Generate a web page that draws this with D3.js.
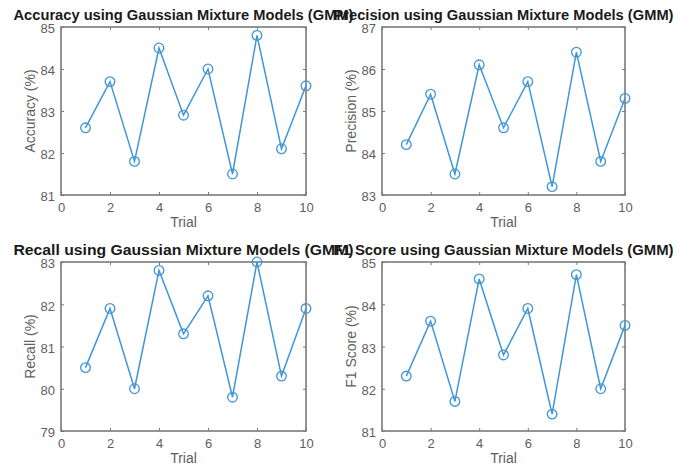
<!DOCTYPE html>
<html>
<head>
<meta charset="utf-8">
<script src="https://cdn.jsdelivr.net/npm/d3@7"></script>
<style>
  body { margin: 0; background: #fff; }
  svg { display: block; font-family: Arial, "Liberation Sans", sans-serif; }
</style>
</head>
<body>
<div id="chart"></div>
<script>
// data
const trials = [1, 2, 3, 4, 5, 6, 7, 8, 9, 10];
const accuracy = [82.6, 83.7, 81.8, 84.5, 82.9, 84.0, 81.5, 84.8, 82.1, 83.6];
const precision = [84.2, 85.4, 83.5, 86.1, 84.6, 85.7, 83.2, 86.4, 83.8, 85.3];
const recall = [80.5, 81.9, 80.0, 82.8, 81.3, 82.2, 79.8, 83.0, 80.3, 81.9];
const f1 = [82.3, 83.6, 81.7, 84.6, 82.8, 83.9, 81.4, 84.7, 82.0, 83.5];

const xTicks = [0, 2, 4, 6, 8, 10];
const panels = [
  { title: 'Accuracy using Gaussian Mixture Models (GMM)', ylabel: 'Accuracy (%)', values: accuracy, yDomain: [81, 85] },
  { title: 'Precision using Gaussian Mixture Models (GMM)', ylabel: 'Precision (%)', values: precision, yDomain: [83, 87] },
  { title: 'Recall using Gaussian Mixture Models (GMM)', ylabel: 'Recall (%)', values: recall, yDomain: [79, 83] },
  { title: 'F1 Score using Gaussian Mixture Models (GMM)', ylabel: 'F1 Score (%)', values: f1, yDomain: [81, 85] }
];

const W = 678, H = 468;
const lineColor = '#4096d6';
const axisColor = '#7a7a7a';
const textColor = '#5e5e5e';

// axes boxes (left, top, width, height)
const boxes = [
  { x: 61, y: 27, w: 245, h: 168 },
  { x: 382, y: 27, w: 243, h: 168 },
  { x: 61, y: 262, w: 245, h: 169 },
  { x: 382, y: 262, w: 243, h: 169 }
];

const svg = d3.select('#chart').append('svg')
  .attr('width', W)
  .attr('height', H);

panels.forEach((p, i) => {
  const b = boxes[i];
  const g = svg.append('g').attr('transform', `translate(${b.x},${b.y})`);

  const x = d3.scaleLinear().domain([0, 10]).range([0, b.w]);
  const y = d3.scaleLinear().domain(p.yDomain).range([b.h, 0]);
  const yTicks = d3.range(p.yDomain[0], p.yDomain[1] + 1);

  // box
  g.append('rect')
    .attr('width', b.w)
    .attr('height', b.h)
    .attr('fill', 'none')
    .attr('stroke', axisColor)
    .attr('stroke-width', 1.6);

  // bottom axis (inward ticks)
  const xb = g.append('g')
    .attr('transform', `translate(0,${b.h})`)
    .call(d3.axisBottom(x).tickValues(xTicks).tickSizeInner(-3).tickSizeOuter(0).tickPadding(8));
  // top ticks
  const xt = g.append('g')
    .call(d3.axisTop(x).tickValues(xTicks).tickSizeInner(-3).tickSizeOuter(0).tickFormat(''));
  // left axis
  const yl = g.append('g')
    .call(d3.axisLeft(y).tickValues(yTicks).tickSizeInner(-3).tickSizeOuter(0).tickPadding(6).tickFormat(d3.format('d')));
  // right ticks
  const yr = g.append('g')
    .attr('transform', `translate(${b.w},0)`)
    .call(d3.axisRight(y).tickValues(yTicks).tickSizeInner(-3).tickSizeOuter(0).tickFormat(''));

  [xb, xt, yl, yr].forEach(a => {
    a.select('.domain').remove();
    a.selectAll('line').attr('stroke', axisColor);
    a.selectAll('text')
      .attr('fill', textColor)
      .style('font-size', '13px')
      .style('font-family', 'Arial, "Liberation Sans", sans-serif');
  });
  // tick labels sit a touch lower in the reference
  yl.selectAll('text').attr('dy', '0.45em');

  // line
  const pts = trials.map((t, k) => ({ t: t, v: p.values[k] }));
  g.append('path')
    .datum(pts)
    .attr('fill', 'none')
    .attr('stroke', lineColor)
    .attr('stroke-width', 1.5)
    .attr('d', d3.line().x(d => x(d.t)).y(d => y(d.v)));

  g.selectAll('.mk')
    .data(pts)
    .enter()
    .append('circle')
    .attr('class', 'mk')
    .attr('cx', d => x(d.t))
    .attr('cy', d => y(d.v))
    .attr('r', 4.8)
    .attr('fill', 'none')
    .attr('stroke', lineColor)
    .attr('stroke-width', 1.3);

  // x label
  g.append('text')
    .attr('x', b.w / 2)
    .attr('y', b.h + 32)
    .attr('text-anchor', 'middle')
    .attr('fill', textColor)
    .style('font-size', '14px')
    .text('Trial');

  // y label
  g.append('text')
    .attr('transform', `translate(-26,${b.h / 2}) rotate(-90)`)
    .attr('text-anchor', 'middle')
    .attr('fill', textColor)
    .style('font-size', '14px')
    .text(p.ylabel);

  // title
  g.append('text')
    .attr('x', b.w / 2)
    .attr('y', -7)
    .attr('text-anchor', 'middle')
    .attr('fill', '#1a1a1a')
    .style('font-size', '14px')
    .style('font-weight', 'bold')
    .attr('textLength', 340)
    .attr('lengthAdjust', 'spacingAndGlyphs')
    .text(p.title);
});
</script>
</body>
</html>
